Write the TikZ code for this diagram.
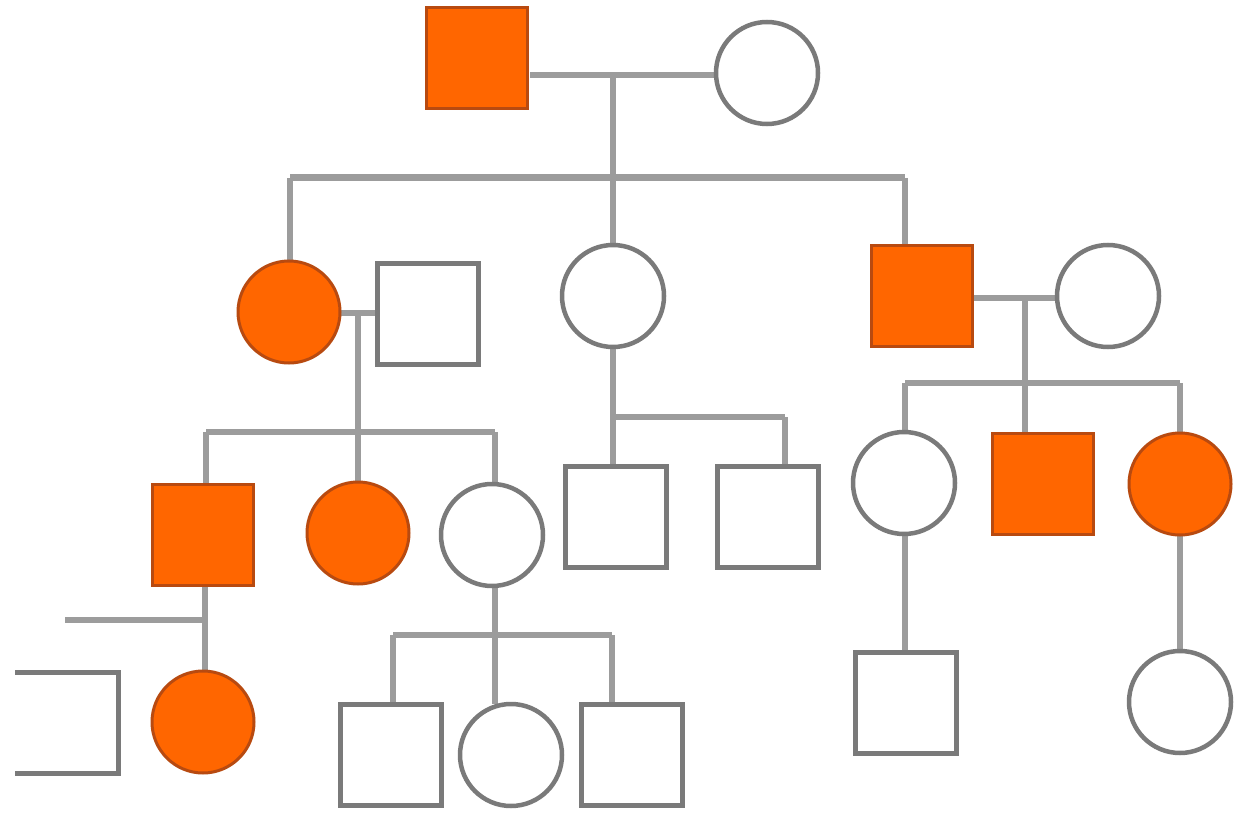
\documentclass[tikz,border=0pt]{standalone}
\usetikzlibrary{calc}
\definecolor{affill}{HTML}{FF6600}
\definecolor{afdraw}{HTML}{B84A10}
\definecolor{lngray}{HTML}{9C9C9C}
\definecolor{shgray}{HTML}{7A7A7A}
\tikzset{
  person/.style={inner sep=0pt, line width=4.5pt, draw=shgray, fill=white},
  male/.style={person, rectangle, minimum size=101pt},
  female/.style={person, circle, minimum size=102pt},
  aff/.style={fill=affill, draw=afdraw, line width=3pt},
  link/.style={line width=6pt, draw=lngray}
}
\begin{document}
\begin{tikzpicture}[x=1pt,y=-1pt]
\fill[white] (0,0) rectangle (1244,826);
\useasboundingbox (0,0) rectangle (1244,826);
\begin{scope}
\clip (15,0) rectangle (1244,826);
% coordinates for line junctions
\coordinate (m1) at (613,75);
\coordinate (s1) at (613,178);
\coordinate (s1l) at (290,178);
\coordinate (s1r) at (905,178);
\coordinate (m2) at (358,313);
\coordinate (s2) at (358,432);
\coordinate (s2l) at (206,432);
\coordinate (s2r) at (495,432);
\coordinate (s3) at (613,417);
\coordinate (s3r) at (785,417);
\coordinate (m4) at (1025,298);
\coordinate (s4) at (1025,383);
\coordinate (s4l) at (905,383);
\coordinate (s4r) at (1180,383);
\coordinate (m5) at (205,620);
\coordinate (m5l) at (65,620);
\coordinate (s5) at (495,635);
\coordinate (s5l) at (393,635);
\coordinate (s5r) at (612,635);

% connectors (drawn first, under the symbols)
\draw[link] (m1) -- (s1);
\draw[link, line width=7pt] (s1l) -- (s1r);
\draw[link] (s1l) -- (290,262);
\draw[link] (s1) -- (613,246);
\draw[link] (s1r) -- (905,246);
\draw[link] (m2) -- (358,482);
\draw[link] (s2l) -- (s2r);
\draw[link] (s2l) -- (206,486);
\draw[link] (s2r) -- (495,484);
\draw[link] (613,348) -- (613,465);
\draw[link] (s3) -- (s3r);
\draw[link] (s3r) -- (785,465);
\draw[link] (m4) -- (1025,432);
\draw[link] (s4l) -- (s4r);
\draw[link] (s4l) -- (905,432);
\draw[link] (s4r) -- (1180,432);
\draw[link] (905,535) -- (905,652);
\draw[link] (1180,535) -- (1180,652);
\draw[link] (205,586) -- (205,672);
\draw[link] (m5l) -- (m5);
\draw[link] (495,586) -- (495,704);
\draw[link] (s5l) -- (s5r);
\draw[link] (s5l) -- (393,705);
\draw[link] (s5r) -- (612,705);
\draw[link] (530,75) -- (716,75);
\draw[link] (340,313) -- (377,313);
\draw[link] (973,298) -- (1057,298);

% generation I
\node[male,aff] (gf) at (477,58) {};
\node[female] (gm) at (767,73) {};
% generation II
\node[female,aff] (c1) at (289,312) {};
\node[male] (c1h) at (428,314) {};
\node[female] (c2) at (613,296) {};
\node[male,aff] (c3) at (922,296) {};
\node[female] (c3w) at (1108,296) {};
% generation III
\node[male,aff] (g3a) at (203,535) {};
\node[female,aff] (g3b) at (358,533) {};
\node[female] (g3c) at (492,535) {};
\node[male] (g3d) at (616,517) {};
\node[male] (g3e) at (768,517) {};
\node[female] (g3f) at (904,483) {};
\node[male,aff] (g3g) at (1043,484) {};
\node[female,aff] (g3h) at (1180,484) {};
% generation IV
\node[male, minimum width=125pt] (g4a) at (56,723) {};
\node[female,aff] (g4b) at (203,722) {};
\node[male] (g4c) at (391,755) {};
\node[female] (g4d) at (511,755) {};
\node[male] (g4e) at (632,755) {};
\node[male] (g4f) at (906,703) {};
\node[female] (g4g) at (1180,702) {};
\end{scope}
\end{tikzpicture}
\end{document}
